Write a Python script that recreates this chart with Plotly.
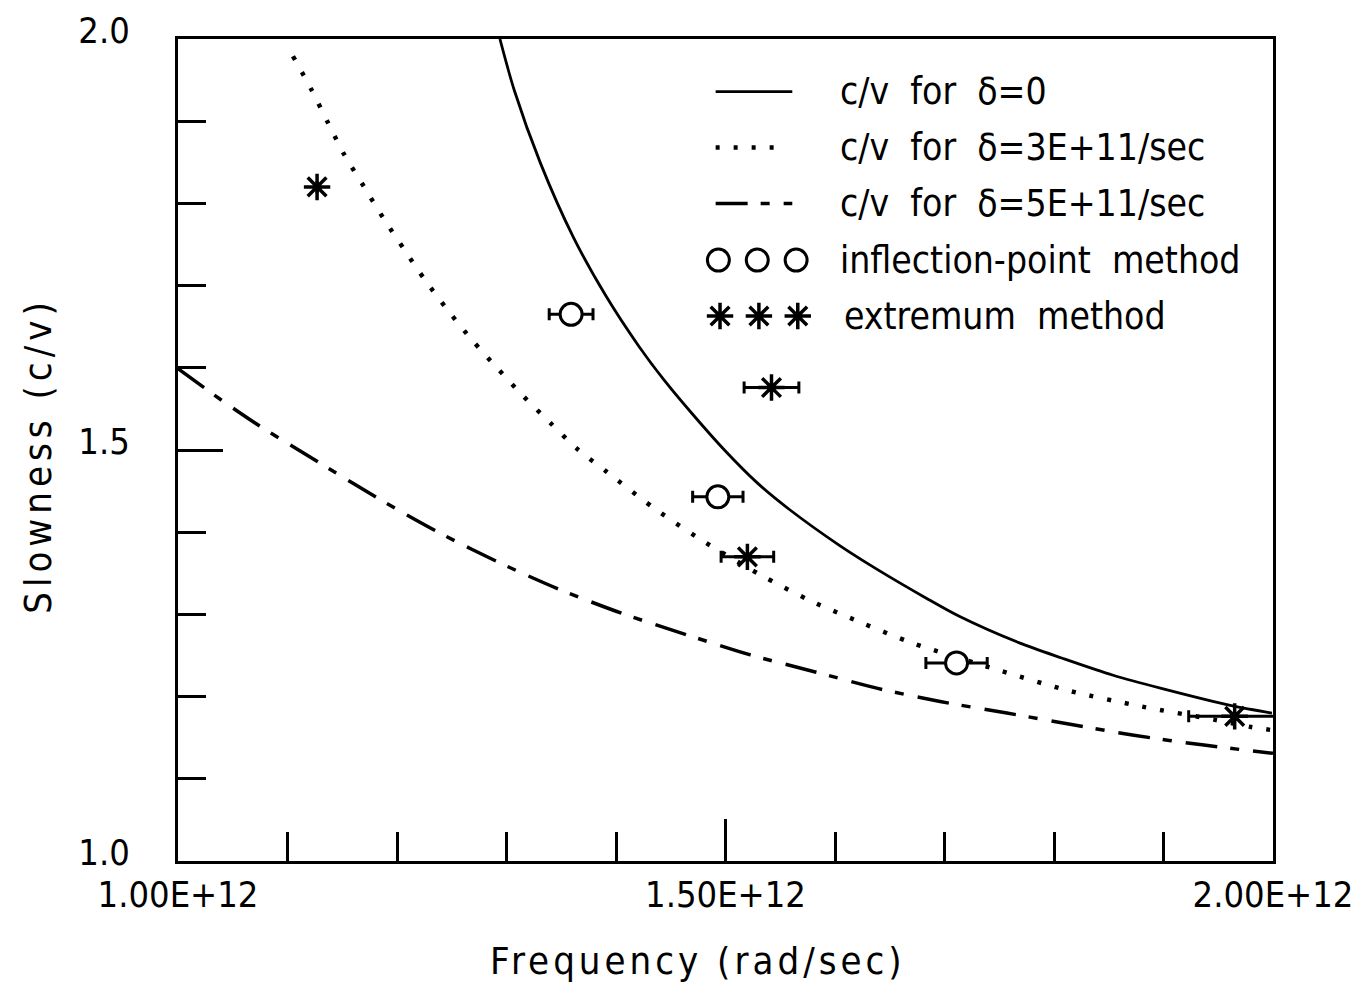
import plotly.graph_objects as go

# ---------------- data (frequency in units of 1E+12 rad/sec) ----------------
# c/v for delta = 0 (solid)
solid_freq = [1.294, 1.307, 1.331, 1.361, 1.391, 1.421, 1.444, 1.469, 1.499, 1.529,
              1.559, 1.604, 1.637, 1.683, 1.713, 1.769, 1.807, 1.854, 1.898, 1.962, 1.999]
solid_slow = [2.000, 1.938, 1.849, 1.759, 1.687, 1.626, 1.585, 1.545, 1.500, 1.460,
              1.427, 1.384, 1.356, 1.320, 1.298, 1.265, 1.247, 1.226, 1.210, 1.189, 1.180]

# c/v for delta = 3E+11/sec (dotted)
d3_freq = [1.105, 1.122, 1.137, 1.152, 1.170, 1.188, 1.207, 1.226, 1.247, 1.269,
           1.292, 1.315, 1.340, 1.364, 1.391, 1.433, 1.475, 1.532, 1.577, 1.624,
           1.671, 1.750, 1.814, 1.880, 1.946, 1.980, 2.000]
d3_slow = [1.979, 1.938, 1.898, 1.859, 1.820, 1.781, 1.743, 1.706, 1.669, 1.633,
           1.599, 1.566, 1.533, 1.502, 1.474, 1.431, 1.393, 1.348, 1.317, 1.290,
           1.265, 1.232, 1.207, 1.188, 1.172, 1.163, 1.159]

# c/v for delta = 5E+11/sec (long-short dashed)
d5_freq = [1.000, 1.033, 1.069, 1.137, 1.188, 1.242, 1.295, 1.349, 1.406, 1.465,
           1.522, 1.582, 1.639, 1.696, 1.757, 1.816, 1.873, 1.937, 2.000]
d5_slow = [1.599, 1.567, 1.534, 1.478, 1.437, 1.397, 1.362, 1.330, 1.301, 1.275,
           1.251, 1.230, 1.210, 1.194, 1.180, 1.166, 1.153, 1.141, 1.131]

# inflection-point method (open circles)
infl_freq = [1.359, 1.493, 1.711]
infl_slow = [1.665, 1.443, 1.241]
infl_err = [0.020, 0.023, 0.028]

# extremum method (asterisks)
ext_freq = [1.127, 1.542, 1.520, 1.965]
ext_slow = [1.820, 1.576, 1.370, 1.176]
ext_err = [None, 0.025, 0.024, 0.042]

legend_labels = ["c/v  for  \u03b4=0",
                 "c/v  for  \u03b4=3E+11/sec",
                 "c/v  for  \u03b4=5E+11/sec",
                 "inflection-point  method",
                 "extremum  method"]

x_ticks = [1.0, 1.5, 2.0]
y_ticks = [1.0, 1.5, 2.0]

# ---------------- styling ----------------
FONT = "DejaVu Sans Condensed, DejaVu Sans, sans-serif"
DOT_DASH = "4px,14px"
LONG_SHORT = "32px,13px,9px,14px"

fig = go.Figure()

fig.add_trace(go.Scatter(x=solid_freq, y=solid_slow, mode="lines",
                         line=dict(color="black", width=2.8, shape="spline", smoothing=0.8),
                         hoverinfo="skip", showlegend=False))
fig.add_trace(go.Scatter(x=d3_freq, y=d3_slow, mode="lines",
                         line=dict(color="black", width=4.5, dash=DOT_DASH, shape="spline", smoothing=0.8),
                         hoverinfo="skip", showlegend=False))
fig.add_trace(go.Scatter(x=d5_freq, y=d5_slow, mode="lines",
                         line=dict(color="black", width=3.5, dash=LONG_SHORT, shape="spline", smoothing=0.8),
                         hoverinfo="skip", showlegend=False))

fig.add_trace(go.Scatter(x=infl_freq, y=infl_slow, mode="markers",
                         marker=dict(symbol="circle", size=22, color="white",
                                     line=dict(color="black", width=3)),
                         error_x=dict(type="data", array=infl_err, color="black",
                                      thickness=3, width=6),
                         hoverinfo="skip", showlegend=False))
fig.add_trace(go.Scatter(x=ext_freq, y=ext_slow, mode="markers",
                         marker=dict(symbol="asterisk-open", size=22, color="black",
                                     line=dict(color="black", width=3.5)),
                         error_x=dict(type="data", array=ext_err, color="black",
                                      thickness=3, width=6),
                         hoverinfo="skip", showlegend=False))

# ---------------- hand-made legend (in plot-area fractions) ----------------
leg_x0, leg_x1 = 0.491, 0.561
leg_rows = [0.936, 0.868, 0.800, 0.731, 0.663]
fig.add_shape(type="line", xref="x domain", yref="y domain", x0=leg_x0, x1=leg_x1,
              y0=leg_rows[0], y1=leg_rows[0], line=dict(color="black", width=2.8))
fig.add_shape(type="line", xref="x domain", yref="y domain", x0=leg_x0, x1=0.553,
              y0=leg_rows[1], y1=leg_rows[1], line=dict(color="black", width=4.5, dash=DOT_DASH))
fig.add_shape(type="line", xref="x domain", yref="y domain", x0=leg_x0, x1=leg_x1,
              y0=leg_rows[2], y1=leg_rows[2], line=dict(color="black", width=3.5, dash=LONG_SHORT))

leg_mark_x = [0.4935, 0.529, 0.5645]
fig.add_trace(go.Scatter(x=leg_mark_x, y=[leg_rows[3]] * 3, xaxis="x2", yaxis="y2",
                         mode="markers",
                         marker=dict(symbol="circle", size=22, color="white",
                                     line=dict(color="black", width=3)),
                         hoverinfo="skip", showlegend=False))
fig.add_trace(go.Scatter(x=[v + 0.0015 for v in leg_mark_x], y=[leg_rows[4]] * 3,
                         xaxis="x2", yaxis="y2", mode="markers",
                         marker=dict(symbol="asterisk-open", size=22, color="black",
                                     line=dict(color="black", width=3.5)),
                         hoverinfo="skip", showlegend=False))

for i, (lab, yy) in enumerate(zip(legend_labels, leg_rows)):
    fig.add_annotation(xref="x domain", yref="y domain", x=0.6027 + (0.004 if i == 4 else 0),
                       y=yy, text=lab, showarrow=False, xanchor="left", yanchor="middle",
                       font=dict(family=FONT, size=37, color="black"))

# axis titles
fig.add_annotation(xref="x domain", yref="y domain", x=0.475, y=-0.122,
                   text='<span style="letter-spacing:4px">Frequency (rad/sec)</span>',
                   showarrow=False, xanchor="center", yanchor="middle",
                   font=dict(family=FONT, size=38, color="black"))
fig.add_annotation(xref="x domain", yref="y domain", x=-0.128, y=0.494,
                   text='<span style="letter-spacing:5px">Slowness (c/v)</span>',
                   showarrow=False, xanchor="center", yanchor="middle", textangle=-90,
                   font=dict(family=FONT, size=38, color="black"))

axis_common = dict(showline=True, linewidth=3, linecolor="black", mirror=True,
                   ticks="inside", tickwidth=3, tickcolor="black", showgrid=False,
                   zeroline=False, automargin=False,
                   tickfont=dict(family=FONT, size=36, color="black"))

# page body has an 8px default margin, so the figure is sized/margined to compensate
fig.update_layout(
    width=1352, height=979,
    margin=dict(l=170, r=87, t=31, b=126, autoexpand=False),
    paper_bgcolor="white", plot_bgcolor="white",
    xaxis=dict(range=[1.0, 2.0], tickmode="array", tickvals=x_ticks,
               ticktext=[f"{v:.2f}E+12" for v in x_ticks], ticklen=42,
               ticklabelstandoff=0,
               minor=dict(ticks="inside", ticklen=29, tickwidth=3, tickcolor="black",
                          tickmode="linear", tick0=1.0, dtick=0.1, showgrid=False),
               **axis_common),
    yaxis=dict(range=[1.0, 2.0], tickmode="array", tickvals=y_ticks,
               ticktext=[f"{v:.1f}" for v in y_ticks], ticklen=45,
               ticklabelstandoff=38, ticklabelshift=-9,
               minor=dict(ticks="inside", ticklen=28, tickwidth=3, tickcolor="black",
                          tickmode="linear", tick0=1.0, dtick=0.1, showgrid=False),
               **axis_common),
    xaxis2=dict(range=[0, 1], overlaying="x", anchor="y2", visible=False),
    yaxis2=dict(range=[0, 1], overlaying="y", anchor="x2", visible=False),
)

fig.write_html("out.html")
